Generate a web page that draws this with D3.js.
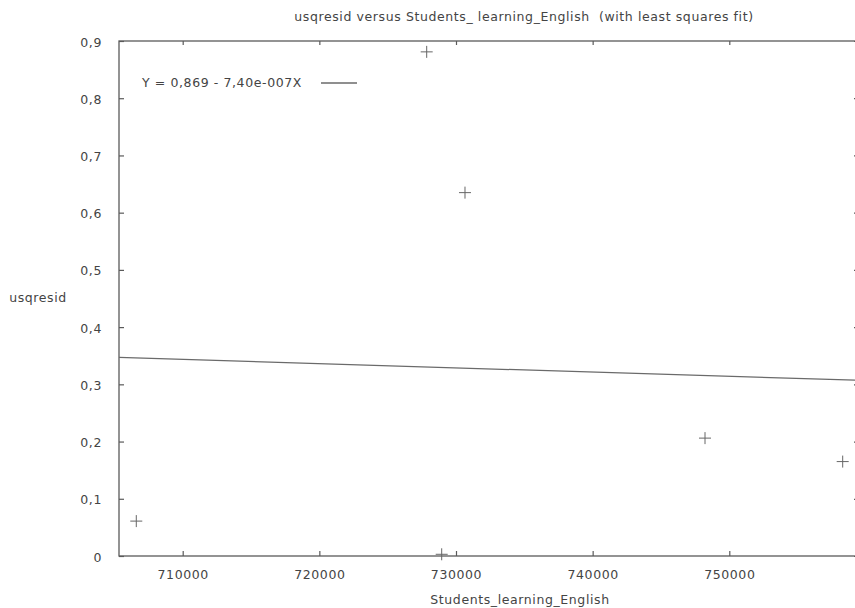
<!DOCTYPE html>
<html><head><meta charset="utf-8">
<script src="https://cdn.jsdelivr.net/npm/d3@7"></script>
<style>body{margin:0;background:#fff}svg{display:block}text{font-family:"DejaVu Sans",Verdana,sans-serif;fill:#444;letter-spacing:0.6px;white-space:pre}</style>
</head><body>
<script>
const xValues = [706604, 727856, 728953, 730658, 748222, 758298];
const yValues = [0.061, 0.881, 0.003, 0.635, 0.206, 0.165];
const xTicks = [710000, 720000, 730000, 740000, 750000];
const yTicks = [0, 0.1, 0.2, 0.3, 0.4, 0.5, 0.6, 0.7, 0.8, 0.9];
const xDomain = [705339, 759418];
const yDomain = [0, 0.9];
const fitIntercept = 0.869, fitSlope = -7.40e-7;
const titleText = "usqresid versus Students_ learning_English  (with least squares fit)";
const xLabel = "Students_learning_English";
const yLabel = "usqresid";
const legendText = "Y = 0,869 - 7,40e-007X";

const W = 855, H = 608;
const L = 119, R = 858, T = 41, B = 556;
const svg = d3.select("body").append("svg").attr("width", W).attr("height", H);
const x = d3.scaleLinear().domain(xDomain).range([L, R]);
const y = d3.scaleLinear().domain(yDomain).range([B, T]);
const axisCol = "#5a5a5a", fs = "12.5px";
const fmtY = d => d === 0 ? "0" : d3.format(".1f")(d).replace(".", ",");

// frame
svg.append("rect").attr("x", L).attr("y", T).attr("width", R - L).attr("height", B - T)
  .attr("fill", "none").attr("stroke", axisCol).attr("stroke-width", 1.3);

// axes
const gx = svg.append("g").attr("transform", `translate(0,${B})`)
  .call(d3.axisBottom(x).tickValues(xTicks).tickSize(-5).tickPadding(14).tickFormat(d3.format("d")));
const gxt = svg.append("g").attr("transform", `translate(0,${T})`)
  .call(d3.axisTop(x).tickValues(xTicks).tickSize(-4).tickFormat(""));
const gy = svg.append("g").attr("transform", `translate(${L},0)`)
  .call(d3.axisLeft(y).tickValues(yTicks).tickSize(-5).tickPadding(17).tickFormat(fmtY));
const gyr = svg.append("g").attr("transform", `translate(${R},0)`)
  .call(d3.axisRight(y).tickValues(yTicks).tickSize(-4).tickFormat(""));
[gx, gxt, gy, gyr].forEach(g => {
  g.select(".domain").remove();
  g.selectAll(".tick line").attr("stroke", axisCol).attr("stroke-width", 1.2);
  g.selectAll("text").attr("font-size", fs).attr("fill", "#444").attr("font-family", '"DejaVu Sans",Verdana,sans-serif');
});
gy.selectAll("text").attr("dy", "0.4em");

// fit line
svg.append("line").attr("x1", x(xDomain[0])).attr("y1", y(fitIntercept + fitSlope * xDomain[0]))
  .attr("x2", x(xDomain[1])).attr("y2", y(fitIntercept + fitSlope * xDomain[1]))
  .attr("stroke", "#6a6a6a").attr("stroke-width", 1.3);

// points
svg.append("g").selectAll("path").data(xValues.map((v, i) => [v, yValues[i]])).join("path")
  .attr("d", d => `M${x(d[0]) - 6},${y(d[1])}h12M${x(d[0])},${y(d[1]) - 6}v12`)
  .attr("stroke", "#666").attr("stroke-width", 1).attr("fill", "none");

// legend
svg.append("text").attr("x", 142).attr("y", 83).attr("dy", "0.35em").attr("font-size", fs).text(legendText);
svg.append("line").attr("x1", 321).attr("x2", 357).attr("y1", 83).attr("y2", 83).attr("stroke", "#6a6a6a").attr("stroke-width", 1.3);

// titles
svg.append("text").attr("x", 524).attr("y", 17).attr("dy", "0.35em").attr("text-anchor", "middle").attr("font-size", fs).text(titleText);
svg.append("text").attr("x", 520).attr("y", 600).attr("dy", "0.35em").attr("text-anchor", "middle").attr("font-size", fs).text(xLabel);
svg.append("text").attr("x", 38).attr("y", 298).attr("dy", "0.35em").attr("text-anchor", "middle").attr("font-size", fs).text(yLabel);
</script>
</body></html>
